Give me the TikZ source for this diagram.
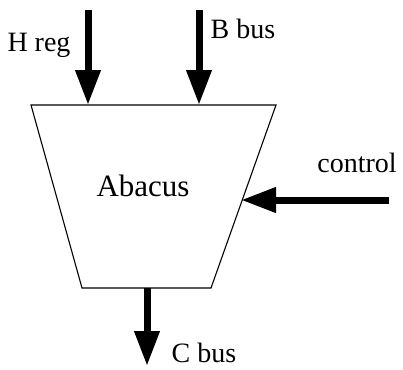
\documentclass[tikz,border=0pt]{standalone}
\usepackage{fontspec}
\setmainfont{Liberation Serif}
\usetikzlibrary{arrows.meta}
\begin{document}
\begin{tikzpicture}[x=1pt,y=-1pt,
  box/.style={line width=1.1pt,line join=miter},
  bigarrow/.style={line width=7pt,-{Triangle[length=35pt,width=24pt]}},
  lbl/.style={font=\fontsize{28}{32}\selectfont,inner sep=0pt}]
\useasboundingbox (0,0) rectangle (403,369);
% trapezoid
\coordinate (tl) at (31,105);
\coordinate (tr) at (276,105);
\coordinate (br) at (211,288);
\coordinate (bl) at (82,288);
\draw[box] (tl) -- (tr) -- (br) -- (bl) -- cycle;
\node[font=\fontsize{31}{34}\selectfont,inner sep=0pt] (abacus) at (143,186) {Abacus};
% inputs
\coordinate (hs) at (88,10);
\coordinate (he) at (88,105);
\coordinate (bs) at (199,10);
\coordinate (be) at (199,105);
\coordinate (cs) at (389,200);
\coordinate (ce) at (241,200);
\coordinate (os) at (147,288);
\coordinate (oe) at (147,366);
\draw[bigarrow] (hs) -- (he);
\draw[bigarrow] (bs) -- (be);
\draw[bigarrow] (cs) -- (ce);
\draw[bigarrow] (os) -- (oe);
\node[lbl] (hreg) at (39,45) {H reg};
\node[lbl] (bbus) at (243,29) {B bus};
\node[lbl] (ctrl) at (357,163) {control};
\node[lbl] (cbus) at (204,353) {C bus};
\end{tikzpicture}
\end{document}
